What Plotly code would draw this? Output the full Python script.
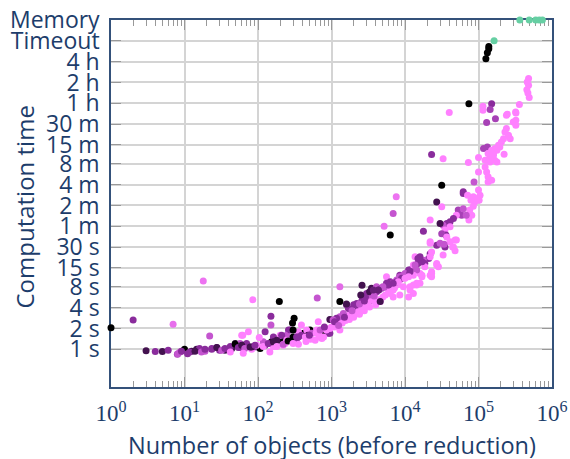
import math
import plotly.graph_objects as go

# ---------------- data ----------------
# shade: 0 = black, 1 = dark purple, 2 = purple, 3 = magenta, 4 = light pink
points = [
    # small instances
    (1, 2.05, 0), (2, 2.65, 2), (3, 0.95, 1), (4, 0.93, 2), (5, 0.93, 1), (6, 0.97, 2),
    (7, 2.3, 3.6), (8, 0.85, 2.5), (8.7, 0.91, 3), (10, 1.0, 0), (18, 9.7, 3.7),
    (85, 5.2, 4), (195, 4.9, 0), (22, 1.55, 3), (62, 1.6, 4), (74, 1.8, 4), (125, 1.8, 2),
    (150, 3.0, 2), (150, 2.25, 3), (310, 2.8, 0), (295, 2.4, 0), (260, 1.9, 2), (365, 1.7, 0),
    (640, 5.5, 3), (1300, 4.9, 0), (1300, 8.0, 3.5), (2600, 8.4, 1), (1600, 4.4, 2),
    (390, 2.25, 4), (950, 2.7, 1), (660, 2.5, 4), (510, 1.9, 0), (420, 1.7, 0),
    # baseline around 1 s
    (8.1, 0.86, 3), (9.1, 0.94, 2), (11, 0.86, 2), (12.5, 0.94, 1), (14.6, 1.0, 1), (16, 1.03, 2),
    (19, 0.94, 3), (23.5, 1.0, 2), (27.5, 1.06, 2), (30, 0.97, 2), (35.5, 0.97, 1), (44, 1.03, 1),
    (49, 1.21, 0.5), (57, 1.06, 2), (70, 1.14, 2), (82, 1.0, 4), (96, 1.08, 2), (107, 1.03, 0),
    (125, 1.14, 2), (145, 1.21, 3), (162, 1.1, 4), (190, 1.35, 1), (210, 1.43, 0), (235, 1.21, 4),
    (290, 1.35, 3), (335, 1.43, 2), (355, 1.18, 4), (162, 1.38, 2), (200, 1.6, 4), (245, 1.6, 3),
    (57, 1.21, 3), (63, 1.14, 0), (70, 1.21, 2), (82, 1.08, 1), (96, 1.14, 4), (118, 1.28, 3),
    (153, 1.28, 0), (162, 1.5, 2), (180, 1.35, 1), (210, 1.6, 2), (220, 1.14, 4), (245, 1.35, 4),
    (275, 1.9, 2), (300, 1.5, 0), (355, 1.8, 4), (390, 1.6, 2), (460, 1.9, 4), (480, 1.6, 1),
    (540, 1.7, 3), (630, 1.9, 4), (700, 1.5, 4), (815, 1.8, 0), (910, 1.7, 2), (1000, 2.1, 4),
    (1120, 2.4, 3), (1300, 1.9, 4), (1450, 2.65, 4), (1600, 2.95, 2), (1800, 3.3, 4), (2100, 3.3, 3),
    (2300, 3.7, 2), (2600, 4.1, 4), (3000, 4.6, 3), (3500, 5.1, 2), (3900, 6.4, 4), (3000, 6.4, 2),
    (3500, 7.6, 1), (4100, 8.0, 3), (300, 1.9, 0), (335, 1.5, 2), (440, 1.5, 4), (620, 1.7, 4),
    (740, 1.43, 4), (950, 1.7, 2),
    (11.8, 0.91, 2), (13.9, 0.94, 1), (17, 0.91, 3), (19, 1.0, 2), (23.5, 1.03, 2), (27.5, 1.06, 1),
    (32, 0.97, 3), (35.5, 1.03, 2), (42, 1.1, 2), (49, 1.18, 0), (54, 1.06, 2), (60, 1.14, 1),
    (66, 1.03, 3), (78, 1.08, 1), (91, 1.14, 2), (118, 1.1, 4), (138, 1.21, 2), (162, 1.28, 1),
    (180, 1.1, 4), (220, 1.18, 3), (257, 1.32, 0), (300, 1.21, 4), (355, 1.5, 2), (63, 0.88, 4),
    (42, 0.91, 4), (145, 0.91, 4), (60, 1.6, 4), (104, 1.48, 4),
    # 10^3 - 10^4 lower pink band
    (9500, 11.8, 4), (8500, 10.0, 4), (7700, 8.5, 4), (6900, 7.2, 4), (6300, 6.4, 4), (5000, 5.7, 4),
    (4600, 4.9, 4), (3900, 4.9, 4), (3500, 5.5, 4), (3200, 4.9, 4), (2900, 4.4, 4), (2600, 3.9, 4),
    (2300, 3.5, 4), (2100, 3.3, 4), (1900, 3.1, 4), (1700, 2.95, 4), (1450, 2.8, 4), (1300, 2.65, 4),
    (5600, 11.2, 4),
    (450, 1.3, 4), (520, 1.4, 4), (600, 1.35, 4), (680, 1.6, 4), (780, 1.5, 4), (850, 1.9, 4),
    (950, 2.0, 4), (1100, 2.1, 4), (1200, 2.3, 4), (1400, 2.4, 4), (1550, 2.6, 4), (1750, 2.7, 4),
    (2000, 2.9, 4), (2400, 3.2, 4), (2800, 3.6, 4), (3300, 4.1, 4), (4000, 4.4, 4), (4400, 5.2, 4),
    (5400, 6.1, 4), (6000, 6.9, 4), (7200, 7.7, 4), (8000, 8.8, 4),
    # 10^3 - 10^4 upper purple band
    (13000, 15.6, 2), (11200, 14, 2), (8500, 11.8, 2), (7700, 10.0, 3), (6300, 9.5, 2), (5600, 9.0, 2),
    (4800, 7.6, 2), (4100, 6.8, 2), (3500, 6.8, 2), (3300, 6.1, 3), (2900, 5.7, 2), (2600, 5.1, 2),
    (2200, 4.6, 2), (2000, 4.4, 2), (1700, 3.9, 2), (1450, 3.3, 3), (1300, 2.95, 3), (1170, 2.8, 2),
    (1050, 2.65, 3), (2500, 6.1, 1), (1600, 4.5, 1), (3300, 6.8, 1), (4600, 4.9, 1),
    (500, 1.6, 2), (700, 1.9, 3), (800, 2.1, 2), (1100, 2.5, 2), (1250, 2.2, 3), (1500, 2.9, 2),
    (1900, 3.6, 3), (2400, 4.5, 3), (2800, 5.0, 2), (3800, 5.9, 3), (4400, 7.2, 2), (5200, 7.9, 3),
    (6000, 8.6, 2), (7000, 9.2, 3),
    # 10^4 - 10^5
    (9500, 8.0, 4), (11700, 7.2, 4), (13000, 6.4, 4), (14400, 8.5, 4), (16000, 9.0, 4), (11200, 5.7, 4),
    (8500, 6.1, 4), (6900, 5.7, 4),
    (13700, 21.7, 4), (27000, 16.5, 4), (28500, 15.6, 4), (23000, 12.5, 4), (23000, 11.2, 4),
    (16000, 12.5, 4), (17000, 11.2, 4), (14400, 9.0, 4), (13000, 8.5, 4), (11700, 8.0, 4),
    (22000, 24, 2), (21000, 20.6, 2), (17800, 19.4, 3), (15000, 17.4, 2), (13700, 15.6, 2),
    (11700, 14, 2), (10000, 12.5, 3), (8500, 11.2, 3), (7700, 9.5, 2),
    (27000, 32, 2), (30000, 34, 3), (35000, 30, 2), (41000, 36, 4), (48000, 38, 4), (45600, 30, 4),
    (33000, 23, 4), (22000, 36, 4),
    (53000, 103, 2.5), (59000, 87, 2.5), (50000, 87, 4), (45600, 78, 2), (41000, 70, 2), (37000, 66, 2),
    (33000, 62, 3), (30000, 66, 1), (22000, 74, 4), (17800, 51, 2), (27000, 135, 1), (31600, 115, 4),
    (7600, 160, 3.7), (6900, 92, 3), (6300, 45, 0), (5200, 60, 3.7),
    (41000, 59, 4), (35000, 53, 4), (36000, 45, 2), (31600, 47, 2.5), (34000, 33, 3), (44500, 30, 4),
    (50000, 38, 4), (48000, 26.5, 4), (23000, 25.6, 4), (22000, 21.7, 4), (16000, 21.7, 2),
    (18600, 17.4, 2), (13000, 16.5, 4), (11200, 11.8, 2), (17000, 11.8, 4), (22000, 11.8, 4),
    (9500, 11.8, 3), (9000, 10.6, 2), (8100, 9.5, 4), (6900, 9.0, 2), (5900, 8.5, 2), (5000, 8.0, 3),
    (4350, 7.2, 1.5), (3700, 7.2, 1.5),
    (22000, 34, 4), (37000, 42, 4), (27000, 17.4, 4), (23000, 13.2, 4), (18600, 15.6, 4),
    (17000, 18.4, 2), (15000, 20.6, 2), (13700, 16.5, 3), (14400, 14, 3), (13000, 11.8, 4),
    (11700, 13.2, 2), (11200, 11.2, 4), (10000, 10.6, 4),
    # 5*10^4 - 5*10^5
    (100000, 200, 4), (105000, 169, 4), (102000, 143, 4), (95000, 151, 4), (85000, 160, 4),
    (79000, 143, 4), (89000, 135, 4), (85000, 117, 4), (76000, 103, 4), (81000, 87, 4), (74000, 74, 4),
    (68000, 87, 3), (62000, 108, 3), (62000, 179, 2), (62000, 189, 2), (71000, 169, 4),
    (123000, 433, 4), (129000, 367, 4), (135000, 311, 4), (151000, 278, 4), (135000, 263, 4),
    (100000, 367, 4), (87000, 263, 3), (31600, 236, 0),
    (72800, 500, 4), (100000, 590, 4), (23000, 657, 2), (33000, 570, 4),
    (195000, 840, 4), (178000, 755, 4), (160000, 675, 4), (144000, 605, 4), (129000, 540, 4),
    (144000, 512, 4), (166000, 540, 4), (178000, 512, 4), (117000, 800, 2.5), (132000, 840, 2.5),
    (223000, 660, 4),
    (240000, 1550, 4), (229000, 1390, 4), (256000, 1240, 4), (270000, 1110, 4), (219000, 1110, 4),
    (205000, 995, 4), (187000, 890, 4), (167000, 800, 4), (151000, 755, 4), (135000, 675, 4),
    (160000, 640, 4), (123000, 540, 4),
    (74000, 3560, 0), (40000, 2640, 4), (115000, 3260, 4), (115000, 2850, 4), (151000, 3560, 2),
    (144000, 2920, 2.5), (129000, 1900, 2.5), (170000, 2160, 2.5),
    (360000, 3470, 4), (240000, 2420, 4), (320000, 2700, 4), (322000, 2050, 4), (322000, 1730, 4),
    (323000, 2610, 4), (246000, 2500, 4), (297000, 1930, 4),
    (480000, 8190, 4), (460000, 7290, 4), (480000, 6550, 4), (455000, 5670, 4), (470000, 5070, 4),
    (490000, 4350, 4),
    (138000, 23900, 0), (132000, 19400, 0), (126000, 15900, 0), (138000, 22200, 0),
]
objects = [p[0] for p in points]
seconds = [p[1] for p in points]
shade = [p[2] for p in points]

timeout_objects = [163000]
memory_objects = [365000, 490000, 600000, 670000, 740000]

tick_seconds = [1, 2, 4, 8, 15, 30, 60, 120, 240, 480, 900, 1800, 3600, 7200, 14400, 28800, 57600]
tick_labels = ["1 s", "2 s", "4 s", "8 s", "15 s", "30 s", "1 m", "2 m", "4 m", "8 m",
               "15 m", "30 m", "1 h", "2 h", "4 h", "Timeout", "Memory"]
x_exponents = [0, 1, 2, 3, 4, 5, 6]

timeout_level = tick_seconds[tick_labels.index("Timeout")]
memory_level = tick_seconds[tick_labels.index("Memory")]

# ---------------- style ----------------
TEXT = "#1d3d6b"
AXIS = "#34517a"
GRID = "#d4d4d4"
TEAL = "#66cfa3"
SANS = "Open Sans"

W, H = 570, 459
L, R, T, B = 111, 18, 20, 72
PW, PH = W - L - R, H - T - B

fig = go.Figure()
fig.add_trace(go.Scatter(
    x=objects, y=seconds, mode="markers",
    marker=dict(size=7, color=shade, cmin=0, cmax=4,
                colorscale=[[0, "#000000"], [0.25, "#43124f"], [0.5, "#8a2c9c"],
                            [0.75, "#c455cf"], [1, "#ff80ff"]],
                line=dict(width=0)),
    cliponaxis=False, showlegend=False, hoverinfo="skip"))
fig.add_trace(go.Scatter(
    x=timeout_objects + memory_objects,
    y=[timeout_level] * len(timeout_objects) + [memory_level] * len(memory_objects),
    mode="markers", marker=dict(size=7, color=TEAL, line=dict(width=0)),
    cliponaxis=False, showlegend=False, hoverinfo="skip"))

minor_x = [m * 10 ** k for k in range(0, 6) for m in range(2, 10)]

fig.update_layout(
    width=W, height=H,
    margin=dict(l=L, r=R, t=T, b=B),
    paper_bgcolor="white", plot_bgcolor="white",
    font=dict(family=SANS, color=TEXT, size=23),
    xaxis=dict(
        type="log", range=[0, 6], automargin=False, layer="below traces",
        tickmode="array", tickvals=[10 ** e for e in x_exponents],
        ticktext=["10<sup>%d</sup>" % e for e in x_exponents],
        tickfont=dict(family="Liberation Serif", size=23, color=TEXT),
        ticks="inside", ticklen=10, tickcolor="#999999", tickwidth=1,
        minor=dict(tickmode="array", tickvals=minor_x, ticks="inside", ticklen=6,
                   tickcolor="#999999", tickwidth=1, showgrid=False),
        showgrid=True, gridcolor=GRID, gridwidth=1.5,
        showline=True, linecolor=AXIS, linewidth=1.5, mirror="ticks",
        ticklabelstandoff=5,
        zeroline=False,
    ),
    yaxis=dict(
        type="log", range=[math.log10(0.285), math.log10(memory_level)], automargin=False,
        layer="below traces",
        tickmode="array", tickvals=tick_seconds, ticktext=tick_labels,
        tickfont=dict(family=SANS, size=23, color=TEXT),
        ticks="inside", ticklen=10, tickcolor="#999999", tickwidth=1,
        showgrid=True, gridcolor=GRID, gridwidth=1.5,
        showline=True, linecolor=AXIS, linewidth=1.5, mirror="ticks",
        ticklabelstandoff=5,
        zeroline=False,
    ),
    annotations=[
        dict(text="Number of objects (before reduction)", xref="paper", yref="paper",
             x=0.5, y=-(445 - (H - B)) / PH, xanchor="center", yanchor="middle",
             showarrow=False, font=dict(size=23.5, color=TEXT, family=SANS)),
        dict(text="Computation time", xref="paper", yref="paper", textangle=-90,
             x=(24 - L) / PW, y=((H - B) - 207.5) / PH, xanchor="center", yanchor="middle",
             showarrow=False, font=dict(size=24, color=TEXT, family=SANS)),
    ],
)

fig.write_html("out.html")
